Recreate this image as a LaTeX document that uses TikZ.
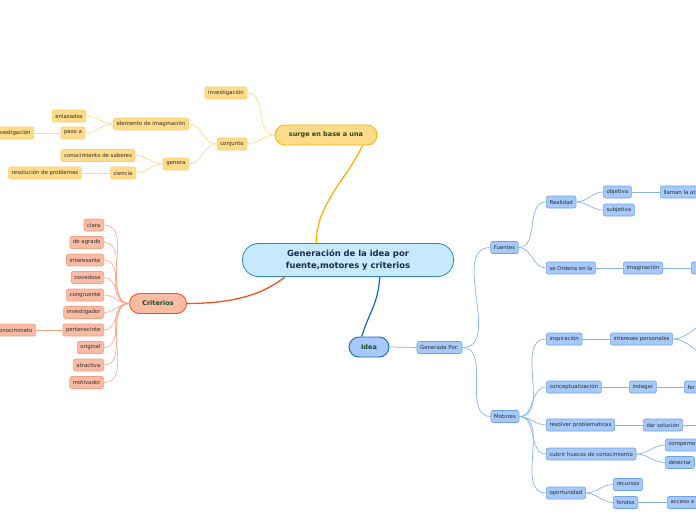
\documentclass[tikz,border=0pt]{standalone}
\usepackage{fontspec}
\setmainfont{DejaVu Sans}
\usetikzlibrary{positioning}
\definecolor{cenFill}{HTML}{C6EAFB}
\definecolor{cenLine}{HTML}{2E86C8}
\definecolor{cenText}{HTML}{1B2A4E}
\definecolor{yelFill}{HTML}{FFDB8A}
\definecolor{yelLine}{HTML}{FFB300}
\definecolor{yelBd}{HTML}{FFCD6A}
\definecolor{yelEdge}{HTML}{FFD98C}
\definecolor{redFill}{HTML}{F9BBA4}
\definecolor{redLine}{HTML}{F4511E}
\definecolor{redBd}{HTML}{F6A184}
\definecolor{redEdge}{HTML}{F9A588}
\definecolor{bluFill}{HTML}{A6C9F9}
\definecolor{bluLine}{HTML}{1565C0}
\definecolor{bluBd}{HTML}{6FA1EC}
\definecolor{bluEdge}{HTML}{86B3F0}
\definecolor{topText}{HTML}{1E4A2E}
\definecolor{subText}{HTML}{2E2E2E}
\tikzset{
  topic/.style={rounded corners=10pt, line width=0.9pt, minimum height=20pt,
    inner xsep=4pt, font=\fontsize{6.5}{7}\selectfont\bfseries, text=topText},
  sub/.style={rounded corners=2pt, line width=0.6pt, minimum height=12pt,
    inner xsep=3.2pt, inner ysep=0pt, font=\fontsize{5.4}{6}\selectfont, text=subText},
  ysub/.style={sub, fill=yelFill, draw=yelBd},
  rsub/.style={sub, fill=redFill, draw=redBd},
  bsub/.style={sub, fill=bluFill, draw=bluBd},
  cut/.style={text width=#1, align=left},
  fw/.style={out=0, in=180},
  bw/.style={out=180, in=0}
}
\begin{document}
\begin{tikzpicture}[x=1pt, y=-1pt]
  \useasboundingbox (0,0) rectangle (696,520);
  \clip (0,0) rectangle (696,520);
  % centre and main topics
  \node[draw=cenLine, fill=cenFill, rounded corners=16pt, line width=0.8pt,
    minimum width=211pt, minimum height=33pt, align=center, text=cenText,
    font=\fontsize{8.4}{11.3}\selectfont\bfseries] (cen) at (348,260)
    {Generación de la idea por\\fuente,motores y criterios};
  \node[topic, fill=yelFill, draw=yelLine, minimum width=102pt] (sur) at (326,135) {surge en base a una};
  \node[topic, fill=redFill, draw=redLine, minimum width=57pt] (cri) at (158,303.5) {Criterios};
  \node[topic, fill=bluFill, draw=bluLine, minimum width=40pt] (ide) at (369,347) {Idea};
  \draw[yelLine, line width=1.3pt] (cen.152) .. controls +(0,-40) and +(-14,32) .. (sur.344);
  \draw[redLine, line width=1.3pt] (cen.195) .. controls +(-22,18) and +(45,0) .. (cri.east);
  \draw[bluLine, line width=1.2pt] (cen.332) .. controls +(-2,28) and +(8,-26) .. (ide.125);

  % surge en base a una
  \node[ysub] (inv) at (226,93) {investigación};
  \node[ysub] (con) at (232,144) {conjunto};
  \node[ysub] (ele) at (151,124) {elemento de imaginación};
  \node[ysub] (gen) at (176,164) {genera};
  \node[ysub] (enl) at (69,116) {enlazados};
  \node[ysub] (pas) at (73,133) {paso a};
  \node[ysub, anchor=east] (inv2) at (34,133) {investigación};
  \node[ysub] (sab) at (98,155.5) {conocimiento de saberes};
  \node[ysub] (cie) at (123,173) {ciencia};
  \node[ysub] (res) at (45,173) {resolución de problemas};
  \path[yelEdge, line width=0.7pt]
    (sur.west) edge[bw] (inv.east)
    (sur.west) edge[bw] (con.east)
    (con.west) edge[bw] (ele.east)
    (con.west) edge[bw] (gen.east)
    (ele.west) edge[bw] (enl.east)
    (ele.west) edge[bw] (pas.east)
    (pas.west) edge (inv2.east)
    (gen.west) edge[bw] (sab.east)
    (gen.west) edge[bw] (cie.east)
    (cie.west) edge (res.east);

  % Criterios
  \node[rsub, anchor=east] (cla) at (104,225) {clara};
  \node[rsub, anchor=east] (agr) at (104,242.5) {de agrado};
  \node[rsub, anchor=east] (int) at (104,260) {interesante};
  \node[rsub, anchor=east] (nov) at (104,277.5) {novedosa};
  \node[rsub, anchor=east] (cgr) at (104,295) {congruente};
  \node[rsub, anchor=east] (ivg) at (104,312.5) {investigador};
  \node[rsub, anchor=east] (per) at (104,330) {pertenecinte};
  \node[rsub, anchor=east] (ori) at (104,347.5) {original};
  \node[rsub, anchor=east] (atr) at (104,365) {atractiva};
  \node[rsub, anchor=east] (mot) at (104,382.5) {motivador};
  \node[rsub, anchor=east] (cnc) at (36,330) {conocimineto};
  \path[redEdge, line width=0.6pt]
    (cri.west) edge[bw] (cla.east)
    (cri.west) edge[bw] (agr.east)
    (cri.west) edge[bw] (int.east)
    (cri.west) edge[bw] (nov.east)
    (cri.west) edge[bw] (cgr.east)
    (cri.west) edge[bw] (ivg.east)
    (cri.west) edge[bw] (per.east)
    (cri.west) edge[bw] (ori.east)
    (cri.west) edge[bw] (atr.east)
    (cri.west) edge[bw] (mot.east)
    (per.west) edge (cnc.east);

  % Idea
  \node[bsub] (gpo) at (439.5,347.5) {Generada Por:};
  \node[bsub] (fue) at (504.5,247.5) {Fuentes};
  \node[bsub] (mtr) at (505,416.5) {Motores};
  \node[bsub, anchor=west] (rea) at (546,202) {Realidad};
  \node[bsub, anchor=west] (obj) at (603,192) {objetiva};
  \node[bsub, anchor=west] (sbj) at (603,210) {subjetiva};
  \node[bsub, anchor=west, cut=40pt] (lla) at (660,192) {llaman la at};
  \node[bsub, anchor=west] (ord) at (546,268) {se Ordena en la};
  \node[bsub, anchor=west] (img) at (623,268) {imaginación};
  \node[bsub, anchor=west, minimum width=30pt] (im2) at (691,268) {};
  \node[bsub, anchor=west] (isp) at (546,339) {inspiración};
  \node[bsub, anchor=west] (ipe) at (610,339) {intereses personales};
  \coordinate (ipA) at (712,322);
  \coordinate (ipB) at (712,356);
  \node[bsub, anchor=west] (cpt) at (546,387) {conceptualización};
  \node[bsub, anchor=west] (ind) at (629,387) {indagar};
  \node[bsub, anchor=west, cut=30pt] (fer) at (684,387) {fer};
  \node[bsub, anchor=west] (rpb) at (546,425) {resolver problematicas};
  \node[bsub, anchor=west] (dso) at (643,425) {dar solución};
  \coordinate (dsA) at (712,425);
  \node[bsub, anchor=west] (cub) at (546,454) {cubrir huecos de conocimiento};
  \node[bsub, anchor=west, cut=40pt] (cmp) at (665,445) {compeme};
  \node[bsub, anchor=west] (det) at (665,462.5) {detectar};
  \node[bsub, anchor=west] (opo) at (546,493) {oportunidad};
  \node[bsub, anchor=west] (rec) at (613,484.5) {recursos};
  \node[bsub, anchor=west] (fon) at (613,502.5) {fondos};
  \node[bsub, anchor=west, cut=40pt] (acc) at (667,502.5) {acceso a};
  \path[bluEdge, line width=0.7pt]
    (ide.east) edge (gpo.west)
    (gpo.east) edge[fw] (fue.west)
    (gpo.east) edge[fw] (mtr.west)
    (fue.east) edge[fw] (rea.west)
    (fue.east) edge[fw] (ord.west)
    (rea.east) edge[fw] (obj.west)
    (rea.east) edge[fw] (sbj.west)
    (obj.east) edge (lla.west)
    (ord.east) edge (img.west)
    (img.east) edge (im2.west)
    (mtr.east) edge[fw] (isp.west)
    (mtr.east) edge[fw] (cpt.west)
    (mtr.east) edge[fw] (rpb.west)
    (mtr.east) edge[fw] (cub.west)
    (mtr.east) edge[fw] (opo.west)
    (isp.east) edge (ipe.west)
    (ipe.east) edge[fw] (ipA)
    (ipe.east) edge[fw] (ipB)
    (cpt.east) edge (ind.west)
    (ind.east) edge (fer.west)
    (rpb.east) edge (dso.west)
    (dso.east) edge (dsA)
    (cub.east) edge[fw] (cmp.west)
    (cub.east) edge[fw] (det.west)
    (opo.east) edge[fw] (rec.west)
    (opo.east) edge[fw] (fon.west)
    (fon.east) edge (acc.west);
\end{tikzpicture}
\end{document}
